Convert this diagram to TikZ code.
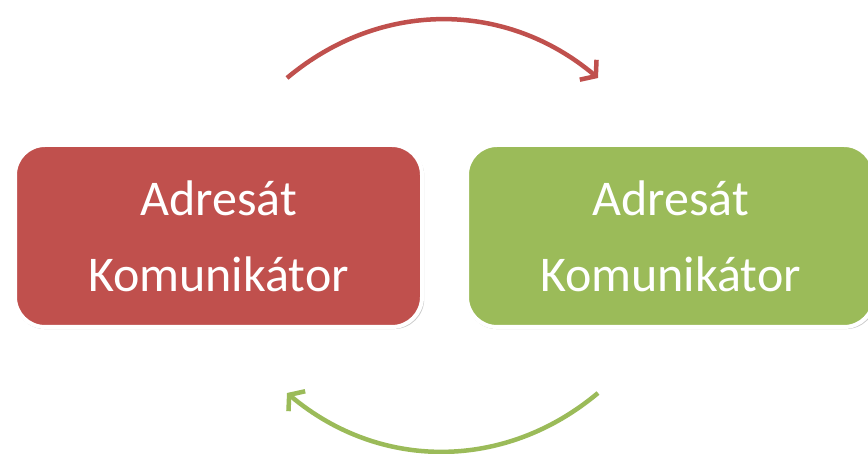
\documentclass[tikz,border=0pt]{standalone}
\usepackage{fontspec}
\setmainfont{Carlito}
\usetikzlibrary{arrows.meta,shadows}
\definecolor{boxred}{HTML}{C0504D}
\definecolor{boxgreen}{HTML}{9BBB59}
\tikzset{
  card/.style={rectangle, rounded corners=30pt, draw=white, line width=4pt,
    minimum width=407pt, minimum height=182pt, inner sep=0pt,
    text=white, align=center, font=\fontsize{50}{76}\selectfont,
    drop shadow={shadow xshift=1pt, shadow yshift=-1.5pt, shadow scale=1.006, opacity=0.45, fill=black!45}},
  flow/.style={line width=4.5pt, -{Straight Barb[length=10pt, width=26pt]}}
}
\begin{document}
\begin{tikzpicture}[x=1pt,y=1pt]
\clip (0,0) rectangle (868,454);
\fill[white] (0,0) rectangle (868,454);
\node[card, fill=boxred] (left) at (218.5,218) {Adresát\\Komunikátor};
\node[card, fill=boxgreen] (right) at (670.5,218) {Adresát\\Komunikátor};
\coordinate (ts) at (287,376);
\coordinate (te) at (598,376);
\coordinate (bs) at (598,61);
\coordinate (be) at (287,61);
\draw[flow, boxred] (ts) to[bend left=40] (te);
\draw[flow, boxgreen] (bs) to[bend left=40] (be);
\end{tikzpicture}
\end{document}
